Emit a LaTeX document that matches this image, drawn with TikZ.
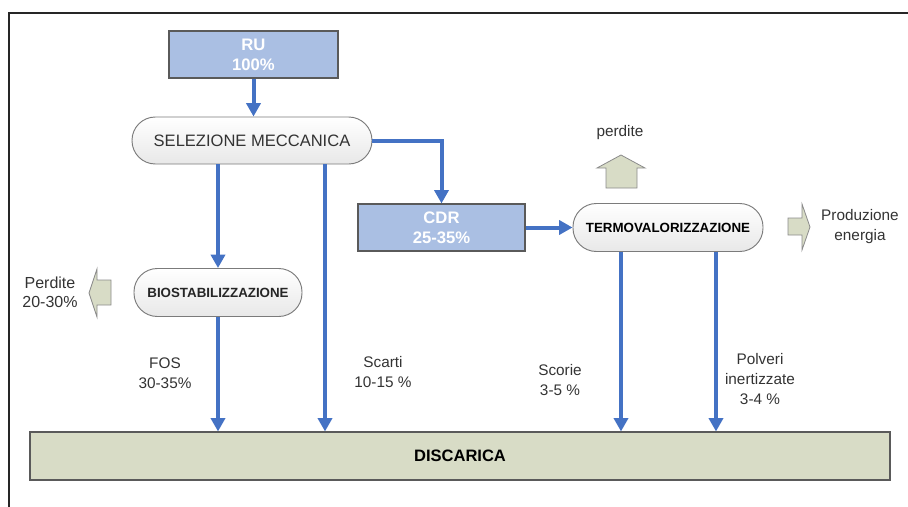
\documentclass[tikz,border=0pt]{standalone}
\usepackage{fontspec}
\setmainfont{Liberation Sans}
\usetikzlibrary{arrows.meta,calc}

\definecolor{flowblue}{HTML}{4472C4}
\definecolor{boxblue}{HTML}{AABFE3}
\definecolor{khaki}{HTML}{D8DCC6}
\definecolor{edgegray}{HTML}{5A5A5A}

\tikzset{
  flow/.style={draw=flowblue, line width=3pt,
    -{Triangle[length=10pt,width=10.5pt]}},
  bluebox/.style={draw=edgegray, line width=0.8pt, fill=boxblue,
    text=white, font=\fontsize{12.5}{15}\selectfont\bfseries,
    align=center, minimum height=35.25pt, inner sep=0pt},
  process/.style={draw=edgegray!80, line width=0.7pt, rounded corners=17.5pt,
    top color=white, bottom color=black!9, align=center,
    minimum height=36pt, inner sep=0pt},
  plainlabel/.style={align=center, inner sep=0pt, text=black!80,
    font=\fontsize{11.5}{15}\selectfont},
  blockarrow/.style={draw=edgegray!70, line width=0.6pt, fill=khaki,
    line join=miter},
}

\begin{document}
\begin{tikzpicture}[x=0.75pt, y=-0.75pt]
  \useasboundingbox (0,0) rectangle (908,507);

  % page frame
  \draw[line width=1.6pt, black!85] (9,507) -- (9,13) -- (908,13);

  % main blocks
  \node[bluebox, minimum width=126.75pt] (ru) at (253.5,54.5) {RU\\100\%};
  \node[process, minimum width=180pt, minimum height=35.25pt,
        font=\fontsize{12.4}{14}\selectfont, text=black!80] (sel) at (252,140.5) {SELEZIONE MECCANICA};
  \node[bluebox, minimum width=125.25pt] (cdr) at (441.5,227.5) {CDR\\25-35\%};
  \node[process, minimum width=142.5pt,
        font=\fontsize{10}{12}\selectfont\bfseries] (termo) at (668,227.5) {TERMOVALORIZZAZIONE};
  \node[process, minimum width=126pt,
        font=\fontsize{10}{12}\selectfont\bfseries, text=black!85] (bio) at (218,292.5) {BIOSTABILIZZAZIONE};
  \node[draw=edgegray, line width=0.8pt, fill=khaki, minimum width=645pt,
        minimum height=36pt, inner sep=0pt,
        font=\fontsize{12.4}{14}\selectfont\bfseries] (disc) at (460,456) {DISCARICA};

  % flows
  \draw[flow] (ru.south) -- (ru.south |- sel.north);
  \draw[flow] (sel.east) -| (cdr.north);
  \draw[flow] (cdr.east) -- (termo.west);
  \draw[flow] (bio.north |- sel.south) -- (bio.north);
  \draw[flow] (bio.south) -- (bio.south |- disc.north);
  \draw[flow] ([xshift=54.75pt]sel.south) -- ([xshift=54.75pt]sel.south |- disc.north);
  \draw[flow] ([xshift=-35.25pt]termo.south) -- ([xshift=-35.25pt]termo.south |- disc.north);
  \draw[flow] ([xshift=36pt]termo.south) -- ([xshift=36pt]termo.south |- disc.north);

  % flow labels
  \node[plainlabel] (fos) at (165,373) {FOS\\30-35\%};
  \node[plainlabel] (scarti) at (383,372) {Scarti\\10-15 \%};
  \node[plainlabel] (scorie) at (560,380) {Scorie\\3-5 \%};
  \node[plainlabel] (polveri) at (760,379) {Polveri\\inertizzate\\3-4 \%};

  % losses and outputs
  \draw[blockarrow] (89,293) -- (97,269) -- (97,280) -- (111,280)
    -- (111,305) -- (97,305) -- (97,317) -- cycle;
  \node[plainlabel, font=\fontsize{12}{14.25}\selectfont] (perdbio) at (50,292.5) {Perdite\\20-30\%};

  \draw[blockarrow] (621,155) -- (645,168) -- (637,168) -- (637,188)
    -- (606,188) -- (606,168) -- (597,168) -- cycle;
  \node[plainlabel, font=\fontsize{11.5}{14}\selectfont] (perdtermo) at (620,133) {perdite};

  \draw[blockarrow] (810,227) -- (802,204) -- (802,218) -- (788,218)
    -- (788,235) -- (802,235) -- (802,250) -- cycle;
  \node[plainlabel, font=\fontsize{11.5}{15}\selectfont] (energia) at (860,227) {Produzione\\energia};
\end{tikzpicture}
\end{document}
